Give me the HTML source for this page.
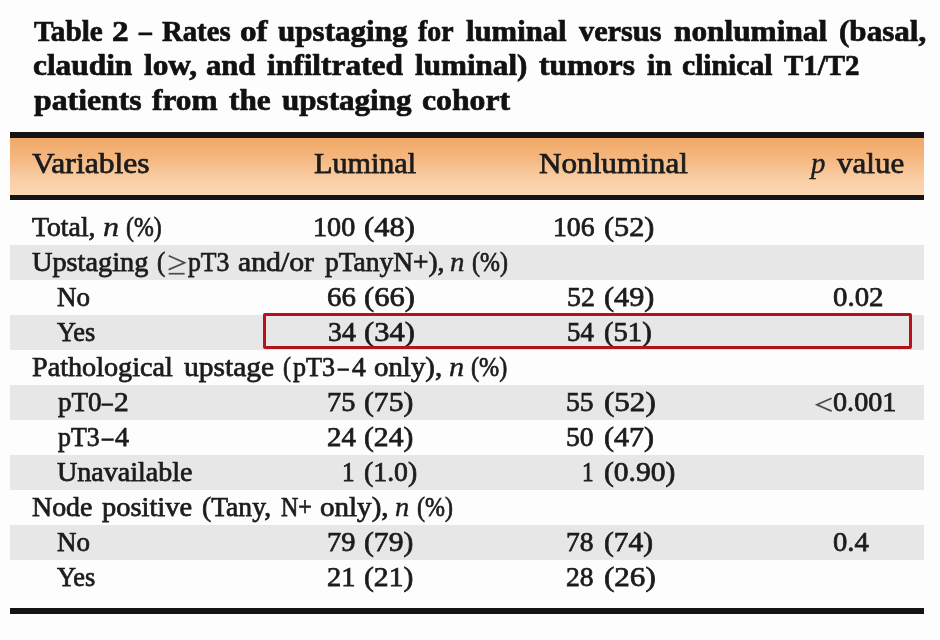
<!DOCTYPE html><html><head><meta charset="utf-8"><title>Table 2</title><style>
html,body{margin:0;padding:0;}
body{width:940px;height:640px;overflow:hidden;background:#fdfdfd;position:relative;font-family:"Liberation Serif",serif;}
.t{position:absolute;white-space:nowrap;line-height:1;transform-origin:0 0;display:block;}
.b{position:absolute;}
</style></head><body><div id="wrap" style="position:absolute;left:0;top:0;width:940px;height:640px;filter:blur(0.55px);">
<div class="b" style="left:10px;top:245px;width:914px;height:35px;background:#e8e7e8"></div>
<div class="b" style="left:10px;top:315px;width:914px;height:35px;background:#e8e7e8"></div>
<div class="b" style="left:10px;top:385px;width:914px;height:35px;background:#e8e7e8"></div>
<div class="b" style="left:10px;top:455px;width:914px;height:35px;background:#e8e7e8"></div>
<div class="b" style="left:10px;top:525px;width:914px;height:35px;background:#e8e7e8"></div>
<div class="b" style="left:10px;top:136px;width:914px;height:60px;background:linear-gradient(to bottom,#f0a763 0%,#f4b57c 33%,#f9cea5 72%,#fbd8b6 100%)"></div>
<div class="b" style="left:10px;top:131.5px;width:914px;height:6px;background:#141414"></div>
<div class="b" style="left:10px;top:195px;width:914px;height:5.3px;background:#141414"></div>
<div class="b" style="left:10px;top:607.5px;width:914px;height:6px;background:#141414"></div>
<span class="t" id="w0" style="left:33.60px;top:15.67px;font-size:30px;color:#111111;font-weight:bold;-webkit-text-stroke:0.7px #111111;transform:scaleX(0.9743);">Table</span>
<span class="t" id="w1" style="left:112.00px;top:15.67px;font-size:30px;color:#111111;font-weight:bold;-webkit-text-stroke:0.7px #111111;transform:scaleX(1.1079);">2</span>
<span class="t" id="w2" style="left:138.80px;top:15.67px;font-size:30px;color:#111111;font-weight:bold;-webkit-text-stroke:0.7px #111111;transform:scaleX(0.8520);">&#8211;</span>
<span class="t" id="w3" style="left:162.00px;top:15.67px;font-size:30px;color:#111111;font-weight:bold;-webkit-text-stroke:0.7px #111111;transform:scaleX(0.9578);">Rates</span>
<span class="t" id="w4" style="left:240.40px;top:15.67px;font-size:30px;color:#111111;font-weight:bold;-webkit-text-stroke:0.7px #111111;transform:scaleX(1.1050);">of</span>
<span class="t" id="w5" style="left:278.40px;top:15.67px;font-size:30px;color:#111111;font-weight:bold;-webkit-text-stroke:0.7px #111111;transform:scaleX(1.0352);">upstaging</span>
<span class="t" id="w6" style="left:418.20px;top:15.67px;font-size:30px;color:#111111;font-weight:bold;-webkit-text-stroke:0.7px #111111;transform:scaleX(0.9264);">for</span>
<span class="t" id="w7" style="left:466.40px;top:15.67px;font-size:30px;color:#111111;font-weight:bold;-webkit-text-stroke:0.7px #111111;transform:scaleX(1.0225);">luminal</span>
<span class="t" id="w8" style="left:578.60px;top:15.67px;font-size:30px;color:#111111;font-weight:bold;-webkit-text-stroke:0.7px #111111;transform:scaleX(1.0099);">versus</span>
<span class="t" id="w9" style="left:673.60px;top:15.67px;font-size:30px;color:#111111;font-weight:bold;-webkit-text-stroke:0.7px #111111;transform:scaleX(1.0438);">nonluminal</span>
<span class="t" id="w10" style="left:838.80px;top:15.67px;font-size:30px;color:#111111;font-weight:bold;-webkit-text-stroke:0.7px #111111;transform:scaleX(1.0366);">(basal,</span>
<span class="t" id="w11" style="left:32.60px;top:49.67px;font-size:30px;color:#111111;font-weight:bold;-webkit-text-stroke:0.7px #111111;transform:scaleX(1.0447);">claudin</span>
<span class="t" id="w12" style="left:143.80px;top:49.67px;font-size:30px;color:#111111;font-weight:bold;-webkit-text-stroke:0.7px #111111;transform:scaleX(1.0440);">low,</span>
<span class="t" id="w13" style="left:206.20px;top:49.67px;font-size:30px;color:#111111;font-weight:bold;-webkit-text-stroke:0.7px #111111;transform:scaleX(1.0209);">and</span>
<span class="t" id="w14" style="left:267.20px;top:49.67px;font-size:30px;color:#111111;font-weight:bold;-webkit-text-stroke:0.7px #111111;transform:scaleX(1.0462);">infiltrated</span>
<span class="t" id="w15" style="left:415.00px;top:49.67px;font-size:30px;color:#111111;font-weight:bold;-webkit-text-stroke:0.7px #111111;transform:scaleX(1.0374);">luminal)</span>
<span class="t" id="w16" style="left:539.40px;top:49.67px;font-size:30px;color:#111111;font-weight:bold;-webkit-text-stroke:0.7px #111111;transform:scaleX(1.0462);">tumors</span>
<span class="t" id="w17" style="left:646.60px;top:49.67px;font-size:30px;color:#111111;font-weight:bold;-webkit-text-stroke:0.7px #111111;transform:scaleX(0.9920);">in</span>
<span class="t" id="w18" style="left:681.80px;top:49.67px;font-size:30px;color:#111111;font-weight:bold;-webkit-text-stroke:0.7px #111111;transform:scaleX(0.9868);">clinical</span>
<span class="t" id="w19" style="left:784.20px;top:49.67px;font-size:30px;color:#111111;font-weight:bold;-webkit-text-stroke:0.7px #111111;transform:scaleX(0.9615);">T1/T2</span>
<span class="t" id="w20" style="left:33.60px;top:84.67px;font-size:30px;color:#111111;font-weight:bold;-webkit-text-stroke:0.7px #111111;transform:scaleX(1.0594);">patients</span>
<span class="t" id="w21" style="left:152.00px;top:84.67px;font-size:30px;color:#111111;font-weight:bold;-webkit-text-stroke:0.7px #111111;transform:scaleX(1.0444);">from</span>
<span class="t" id="w22" style="left:228.60px;top:84.67px;font-size:30px;color:#111111;font-weight:bold;-webkit-text-stroke:0.7px #111111;transform:scaleX(1.0413);">the</span>
<span class="t" id="w23" style="left:282.00px;top:84.67px;font-size:30px;color:#111111;font-weight:bold;-webkit-text-stroke:0.7px #111111;transform:scaleX(1.0352);">upstaging</span>
<span class="t" id="w24" style="left:422.20px;top:84.67px;font-size:30px;color:#111111;font-weight:bold;-webkit-text-stroke:0.7px #111111;transform:scaleX(1.0579);">cohort</span>
<span class="t" id="w25" style="left:32.00px;top:148.38px;font-size:30px;color:#1c1c1c;-webkit-text-stroke:0.75px #1c1c1c;transform:scaleX(1.0541);">Variables</span>
<span class="t" id="w26" style="left:314.00px;top:148.38px;font-size:30px;color:#1c1c1c;-webkit-text-stroke:0.75px #1c1c1c;transform:scaleX(1.0040);">Luminal</span>
<span class="t" id="w27" style="left:539.20px;top:148.38px;font-size:30px;color:#1c1c1c;-webkit-text-stroke:0.75px #1c1c1c;transform:scaleX(1.0392);">Nonluminal</span>
<span class="t" id="w28" style="left:811.00px;top:148.38px;font-size:30px;color:#1c1c1c;-webkit-text-stroke:0.4px #1c1c1c;transform:scaleX(0.9629);"><i>p</i></span>
<span class="t" id="w29" style="left:836.60px;top:148.38px;font-size:30px;color:#1c1c1c;-webkit-text-stroke:0.75px #1c1c1c;transform:scaleX(1.0341);">value</span>
<span class="t" id="w30" style="left:32.00px;top:213.35px;font-size:28px;color:#1c1c1c;-webkit-text-stroke:0.75px #1c1c1c;transform:scaleX(0.9903);">Total,</span>
<span class="t" id="w31" style="left:103.40px;top:213.35px;font-size:28px;color:#1c1c1c;-webkit-text-stroke:0.4px #1c1c1c;transform:scaleX(1.1501);"><i>n</i></span>
<span class="t" id="w32" style="left:125.80px;top:213.35px;font-size:28px;color:#1c1c1c;-webkit-text-stroke:0.75px #1c1c1c;transform:scaleX(0.8500);">(%)</span>
<span class="t" id="w33" style="left:313.40px;top:213.35px;font-size:28px;color:#1c1c1c;-webkit-text-stroke:0.75px #1c1c1c;transform:scaleX(1.0052);">100</span>
<span class="t" id="w34" style="left:364.40px;top:213.35px;font-size:28px;color:#1c1c1c;-webkit-text-stroke:0.75px #1c1c1c;transform:scaleX(1.0890);">(48)</span>
<span class="t" id="w35" style="left:552.60px;top:213.35px;font-size:28px;color:#1c1c1c;-webkit-text-stroke:0.75px #1c1c1c;transform:scaleX(0.9904);">106</span>
<span class="t" id="w36" style="left:603.60px;top:213.35px;font-size:28px;color:#1c1c1c;-webkit-text-stroke:0.75px #1c1c1c;transform:scaleX(1.0800);">(52)</span>
<span class="t" id="w37" style="left:32.00px;top:248.35px;font-size:28px;color:#1c1c1c;-webkit-text-stroke:0.75px #1c1c1c;transform:scaleX(1.0106);">Upstaging</span>
<span class="t" id="w38" style="left:157.40px;top:248.35px;font-size:28px;color:#1c1c1c;-webkit-text-stroke:0.75px #1c1c1c;transform:scaleX(0.8802);">(</span>
<span class="t" id="w39" style="left:188.20px;top:248.35px;font-size:28px;color:#1c1c1c;-webkit-text-stroke:0.75px #1c1c1c;transform:scaleX(0.9182);">pT3</span>
<span class="t" id="w40" style="left:238.20px;top:248.35px;font-size:28px;color:#1c1c1c;-webkit-text-stroke:0.75px #1c1c1c;transform:scaleX(1.0621);">and/or</span>
<span class="t" id="w41" style="left:325.00px;top:248.35px;font-size:28px;color:#1c1c1c;-webkit-text-stroke:0.75px #1c1c1c;transform:scaleX(0.9800);">pTanyN+),</span>
<span class="t" id="w42" style="left:450.00px;top:248.35px;font-size:28px;color:#1c1c1c;-webkit-text-stroke:0.4px #1c1c1c;transform:scaleX(1.0336);"><i>n</i></span>
<span class="t" id="w43" style="left:472.40px;top:248.35px;font-size:28px;color:#1c1c1c;-webkit-text-stroke:0.75px #1c1c1c;transform:scaleX(0.8544);">(%)</span>
<span class="t" id="w44" style="left:56.60px;top:283.35px;font-size:28px;color:#1c1c1c;-webkit-text-stroke:0.75px #1c1c1c;transform:scaleX(0.9640);">No</span>
<span class="t" id="w45" style="left:327.20px;top:283.35px;font-size:28px;color:#1c1c1c;-webkit-text-stroke:0.75px #1c1c1c;transform:scaleX(1.0313);">66</span>
<span class="t" id="w46" style="left:364.40px;top:283.35px;font-size:28px;color:#1c1c1c;-webkit-text-stroke:0.75px #1c1c1c;transform:scaleX(1.0890);">(66)</span>
<span class="t" id="w47" style="left:567.20px;top:283.35px;font-size:28px;color:#1c1c1c;-webkit-text-stroke:0.75px #1c1c1c;transform:scaleX(0.9923);">52</span>
<span class="t" id="w48" style="left:603.60px;top:283.35px;font-size:28px;color:#1c1c1c;-webkit-text-stroke:0.75px #1c1c1c;transform:scaleX(1.0800);">(49)</span>
<span class="t" id="w49" style="left:833.40px;top:283.35px;font-size:28px;color:#1c1c1c;-webkit-text-stroke:0.75px #1c1c1c;transform:scaleX(1.0298);">0.02</span>
<span class="t" id="w50" style="left:56.60px;top:318.35px;font-size:28px;color:#1c1c1c;-webkit-text-stroke:0.75px #1c1c1c;transform:scaleX(0.9401);">Yes</span>
<span class="t" id="w51" style="left:328.20px;top:318.35px;font-size:28px;color:#1c1c1c;-webkit-text-stroke:0.75px #1c1c1c;transform:scaleX(0.9928);">34</span>
<span class="t" id="w52" style="left:364.40px;top:318.35px;font-size:28px;color:#1c1c1c;-webkit-text-stroke:0.75px #1c1c1c;transform:scaleX(1.0890);">(34)</span>
<span class="t" id="w53" style="left:567.20px;top:318.35px;font-size:28px;color:#1c1c1c;-webkit-text-stroke:0.75px #1c1c1c;transform:scaleX(0.9556);">54</span>
<span class="t" id="w54" style="left:603.60px;top:318.35px;font-size:28px;color:#1c1c1c;-webkit-text-stroke:0.75px #1c1c1c;transform:scaleX(1.0222);">(51)</span>
<span class="t" id="w55" style="left:32.00px;top:353.35px;font-size:28px;color:#1c1c1c;-webkit-text-stroke:0.75px #1c1c1c;transform:scaleX(1.0058);">Pathological</span>
<span class="t" id="w56" style="left:183.80px;top:353.35px;font-size:28px;color:#1c1c1c;-webkit-text-stroke:0.75px #1c1c1c;transform:scaleX(1.0541);">upstage</span>
<span class="t" id="w57" style="left:282.60px;top:353.35px;font-size:28px;color:#1c1c1c;-webkit-text-stroke:0.75px #1c1c1c;transform:scaleX(0.8533);">(</span>
<span class="t" id="w58" style="left:293.40px;top:353.35px;font-size:28px;color:#1c1c1c;-webkit-text-stroke:0.75px #1c1c1c;transform:scaleX(0.9320);">pT3</span>
<span class="t" id="w59" style="left:337.80px;top:353.35px;font-size:28px;color:#1c1c1c;-webkit-text-stroke:0.75px #1c1c1c;transform:scaleX(0.7508);">&#8211;</span>
<span class="t" id="w60" style="left:351.80px;top:353.35px;font-size:28px;color:#1c1c1c;-webkit-text-stroke:0.75px #1c1c1c;transform:scaleX(0.9866);">4</span>
<span class="t" id="w61" style="left:374.40px;top:353.35px;font-size:28px;color:#1c1c1c;-webkit-text-stroke:0.75px #1c1c1c;transform:scaleX(1.0312);">only),</span>
<span class="t" id="w62" style="left:448.60px;top:353.35px;font-size:28px;color:#1c1c1c;-webkit-text-stroke:0.4px #1c1c1c;transform:scaleX(1.0851);"><i>n</i></span>
<span class="t" id="w63" style="left:471.20px;top:353.35px;font-size:28px;color:#1c1c1c;-webkit-text-stroke:0.75px #1c1c1c;transform:scaleX(0.8651);">(%)</span>
<span class="t" id="w64" style="left:57.60px;top:388.35px;font-size:28px;color:#1c1c1c;-webkit-text-stroke:0.75px #1c1c1c;transform:scaleX(0.9682);">pT0</span>
<span class="t" id="w65" style="left:101.80px;top:388.35px;font-size:28px;color:#1c1c1c;-webkit-text-stroke:0.75px #1c1c1c;transform:scaleX(0.7602);">&#8211;</span>
<span class="t" id="w66" style="left:114.20px;top:388.35px;font-size:28px;color:#1c1c1c;-webkit-text-stroke:0.75px #1c1c1c;transform:scaleX(1.0503);">2</span>
<span class="t" id="w67" style="left:327.00px;top:388.35px;font-size:28px;color:#1c1c1c;-webkit-text-stroke:0.75px #1c1c1c;transform:scaleX(1.0155);">75</span>
<span class="t" id="w68" style="left:364.40px;top:388.35px;font-size:28px;color:#1c1c1c;-webkit-text-stroke:0.75px #1c1c1c;transform:scaleX(1.0578);">(75)</span>
<span class="t" id="w69" style="left:566.40px;top:388.35px;font-size:28px;color:#1c1c1c;-webkit-text-stroke:0.75px #1c1c1c;transform:scaleX(0.9853);">55</span>
<span class="t" id="w70" style="left:603.80px;top:388.35px;font-size:28px;color:#1c1c1c;-webkit-text-stroke:0.75px #1c1c1c;transform:scaleX(1.1093);">(52)</span>
<span class="t" id="w71" style="left:833.00px;top:388.35px;font-size:28px;color:#1c1c1c;-webkit-text-stroke:0.75px #1c1c1c;transform:scaleX(1.0066);">0.001</span>
<span class="t" id="w72" style="left:57.60px;top:423.35px;font-size:28px;color:#1c1c1c;-webkit-text-stroke:0.75px #1c1c1c;transform:scaleX(0.9230);">pT3</span>
<span class="t" id="w73" style="left:102.20px;top:423.35px;font-size:28px;color:#1c1c1c;-webkit-text-stroke:0.75px #1c1c1c;transform:scaleX(0.8013);">&#8211;</span>
<span class="t" id="w74" style="left:115.20px;top:423.35px;font-size:28px;color:#1c1c1c;-webkit-text-stroke:0.75px #1c1c1c;transform:scaleX(1.0014);">4</span>
<span class="t" id="w75" style="left:327.20px;top:423.35px;font-size:28px;color:#1c1c1c;-webkit-text-stroke:0.75px #1c1c1c;transform:scaleX(1.0298);">24</span>
<span class="t" id="w76" style="left:364.40px;top:423.35px;font-size:28px;color:#1c1c1c;-webkit-text-stroke:0.75px #1c1c1c;transform:scaleX(1.0578);">(24)</span>
<span class="t" id="w77" style="left:566.40px;top:423.35px;font-size:28px;color:#1c1c1c;-webkit-text-stroke:0.75px #1c1c1c;transform:scaleX(0.9853);">50</span>
<span class="t" id="w78" style="left:603.80px;top:423.35px;font-size:28px;color:#1c1c1c;-webkit-text-stroke:0.75px #1c1c1c;transform:scaleX(1.0731);">(47)</span>
<span class="t" id="w79" style="left:56.60px;top:458.35px;font-size:28px;color:#1c1c1c;-webkit-text-stroke:0.75px #1c1c1c;transform:scaleX(1.0015);">Unavailable</span>
<span class="t" id="w80" style="left:342.20px;top:458.35px;font-size:28px;color:#1c1c1c;-webkit-text-stroke:0.75px #1c1c1c;transform:scaleX(0.9001);">1</span>
<span class="t" id="w81" style="left:364.40px;top:458.35px;font-size:28px;color:#1c1c1c;-webkit-text-stroke:0.75px #1c1c1c;transform:scaleX(0.9923);">(1.0)</span>
<span class="t" id="w82" style="left:581.60px;top:458.35px;font-size:28px;color:#1c1c1c;-webkit-text-stroke:0.75px #1c1c1c;transform:scaleX(0.8281);">1</span>
<span class="t" id="w83" style="left:603.80px;top:458.35px;font-size:28px;color:#1c1c1c;-webkit-text-stroke:0.75px #1c1c1c;transform:scaleX(1.0555);">(0.90)</span>
<span class="t" id="w84" style="left:32.00px;top:493.35px;font-size:28px;color:#1c1c1c;-webkit-text-stroke:0.75px #1c1c1c;transform:scaleX(0.9967);">Node</span>
<span class="t" id="w85" style="left:102.00px;top:493.35px;font-size:28px;color:#1c1c1c;-webkit-text-stroke:0.75px #1c1c1c;transform:scaleX(1.0159);">positive</span>
<span class="t" id="w86" style="left:202.00px;top:493.35px;font-size:28px;color:#1c1c1c;-webkit-text-stroke:0.75px #1c1c1c;transform:scaleX(0.9853);">(Tany,</span>
<span class="t" id="w87" style="left:281.00px;top:493.35px;font-size:28px;color:#1c1c1c;-webkit-text-stroke:0.75px #1c1c1c;transform:scaleX(0.8571);">N+</span>
<span class="t" id="w88" style="left:320.00px;top:493.35px;font-size:28px;color:#1c1c1c;-webkit-text-stroke:0.75px #1c1c1c;transform:scaleX(1.0376);">only),</span>
<span class="t" id="w89" style="left:394.60px;top:493.35px;font-size:28px;color:#1c1c1c;-webkit-text-stroke:0.4px #1c1c1c;transform:scaleX(1.0177);"><i>n</i></span>
<span class="t" id="w90" style="left:416.60px;top:493.35px;font-size:28px;color:#1c1c1c;-webkit-text-stroke:0.75px #1c1c1c;transform:scaleX(0.8551);">(%)</span>
<span class="t" id="w91" style="left:56.60px;top:528.35px;font-size:28px;color:#1c1c1c;-webkit-text-stroke:0.75px #1c1c1c;transform:scaleX(0.9640);">No</span>
<span class="t" id="w92" style="left:327.00px;top:528.35px;font-size:28px;color:#1c1c1c;-webkit-text-stroke:0.75px #1c1c1c;transform:scaleX(1.0155);">79</span>
<span class="t" id="w93" style="left:364.40px;top:528.35px;font-size:28px;color:#1c1c1c;-webkit-text-stroke:0.75px #1c1c1c;transform:scaleX(1.0578);">(79)</span>
<span class="t" id="w94" style="left:566.40px;top:528.35px;font-size:28px;color:#1c1c1c;-webkit-text-stroke:0.75px #1c1c1c;transform:scaleX(0.9853);">78</span>
<span class="t" id="w95" style="left:603.80px;top:528.35px;font-size:28px;color:#1c1c1c;-webkit-text-stroke:0.75px #1c1c1c;transform:scaleX(1.0548);">(74)</span>
<span class="t" id="w96" style="left:833.00px;top:528.35px;font-size:28px;color:#1c1c1c;-webkit-text-stroke:0.75px #1c1c1c;transform:scaleX(1.0235);">0.4</span>
<span class="t" id="w97" style="left:56.60px;top:563.35px;font-size:28px;color:#1c1c1c;-webkit-text-stroke:0.75px #1c1c1c;transform:scaleX(0.9401);">Yes</span>
<span class="t" id="w98" style="left:327.00px;top:563.35px;font-size:28px;color:#1c1c1c;-webkit-text-stroke:0.75px #1c1c1c;transform:scaleX(1.0155);">21</span>
<span class="t" id="w99" style="left:364.40px;top:563.35px;font-size:28px;color:#1c1c1c;-webkit-text-stroke:0.75px #1c1c1c;transform:scaleX(1.0578);">(21)</span>
<span class="t" id="w100" style="left:566.40px;top:563.35px;font-size:28px;color:#1c1c1c;-webkit-text-stroke:0.75px #1c1c1c;transform:scaleX(0.9853);">28</span>
<span class="t" id="w101" style="left:603.80px;top:563.35px;font-size:28px;color:#1c1c1c;-webkit-text-stroke:0.75px #1c1c1c;transform:scaleX(1.1093);">(26)</span>
<svg class="b" style="left:0;top:0" width="940" height="640" viewBox="0 0 940 640"><g fill="none" stroke="#4a4a4a" stroke-width="1.7"><path d="M168.7 255.7 L184.6 262.7 L168.7 269.6"/><path d="M168.7 273.7 H184.6"/><path d="M831.6 398.3 L816.9 404.7 L831.6 411.1"/></g></svg>
<div class="b" style="left:262.5px;top:312.7px;width:643px;height:30px;border:3px solid #b5121d;border-radius:2px"></div>
</div></body></html>
